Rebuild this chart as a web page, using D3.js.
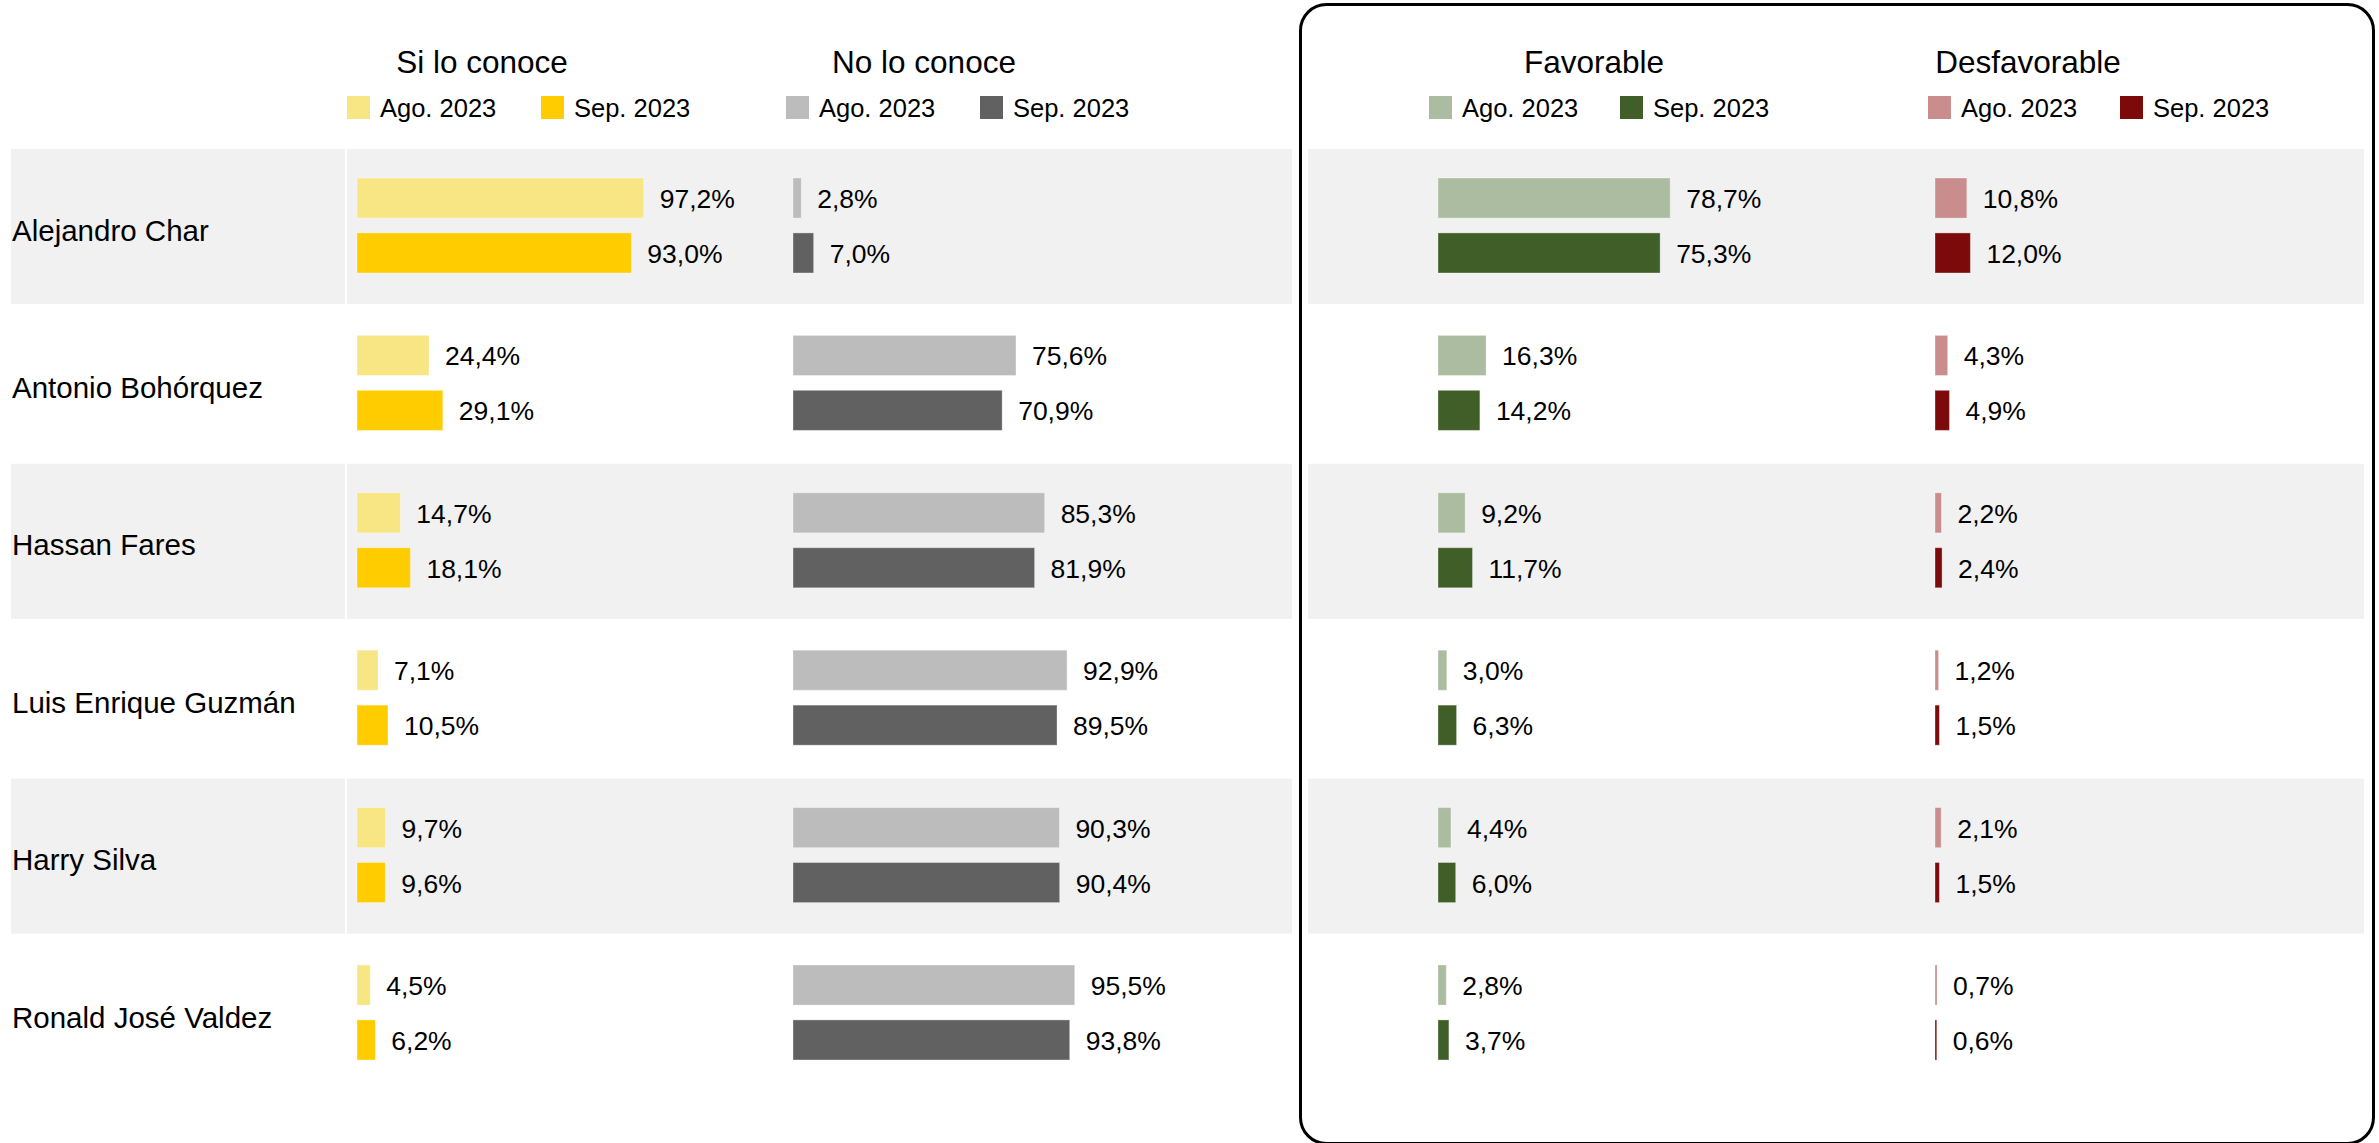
<!DOCTYPE html>
<html>
<head>
<meta charset="utf-8">
<script src="https://cdn.jsdelivr.net/npm/d3@7"></script>
<style>
  html, body { margin: 0; padding: 0; background: #ffffff; }
  svg { display: block; }
  text { font-family: "Liberation Sans", Arial, sans-serif; fill: #000; }
</style>
</head>
<body>
<svg id="chart" width="2379" height="1143"></svg>
<script>
// Candidates, in display order
const candidates = ["Alejandro Char", "Antonio Bohórquez", "Hassan Fares",
                    "Luis Enrique Guzmán", "Harry Silva", "Ronald José Valdez"];
const periods = ["Ago. 2023", "Sep. 2023"];

// Percentages per indicator and period
const siConoceAgo = [97.2, 24.4, 14.7, 7.1, 9.7, 4.5];
const siConoceSep = [93.0, 29.1, 18.1, 10.5, 9.6, 6.2];
const noConoceAgo = [2.8, 75.6, 85.3, 92.9, 90.3, 95.5];
const noConoceSep = [7.0, 70.9, 81.9, 89.5, 90.4, 93.8];
const favorableAgo = [78.7, 16.3, 9.2, 3.0, 4.4, 2.8];
const favorableSep = [75.3, 14.2, 11.7, 6.3, 6.0, 3.7];
const desfavorableAgo = [10.8, 4.3, 2.2, 1.2, 2.1, 0.7];
const desfavorableSep = [12.0, 4.9, 2.4, 1.5, 1.5, 0.6];

// Panel definitions: title, series, colours, x origin of bars
const panels = [
  { title: "Si lo conoce", values: [siConoceAgo, siConoceSep],
    colors: ["#F8E583", "#FFCC00"], x0: 357, titleX: 482, legendX: [347, 541] },
  { title: "No lo conoce", values: [noConoceAgo, noConoceSep],
    colors: ["#BCBCBC", "#616161"], x0: 793, titleX: 924, legendX: [786, 980] },
  { title: "Favorable", values: [favorableAgo, favorableSep],
    colors: ["#ABBCA0", "#3F5E28"], x0: 1438, titleX: 1594, legendX: [1429, 1620] },
  { title: "Desfavorable", values: [desfavorableAgo, desfavorableSep],
    colors: ["#C98D8D", "#7D0A0A"], x0: 1935, titleX: 2028, legendX: [1928, 2120] }
];

const svg = d3.select("#chart");

// Row layout
const rowPitch = 157.4;
const rowTop = 149;
const y = d3.scaleBand()
  .domain(candidates)
  .range([rowTop, rowTop + rowPitch * candidates.length])
  .paddingInner(0);

// Position of the two period bars inside a row
const yInner = d3.scaleBand()
  .domain(periods)
  .range([29, 124])
  .paddingInner(0.27);

// Shared value scale for every panel
const x = d3.scaleLinear().domain([0, 100]).range([0, 295]);

const fmt = v => d3.format(".1f")(v).replace(".", ",") + "%";

// Alternating row bands (odd rows shaded)
const bandH = 155;
const bands = svg.append("g").attr("class", "bands");
candidates.forEach((c, i) => {
  if (i % 2 !== 0) return;
  const top = y(c);
  bands.append("rect").attr("x", 11).attr("y", top).attr("width", 334).attr("height", bandH).attr("fill", "#F1F1F1");
  bands.append("rect").attr("x", 347).attr("y", top).attr("width", 945).attr("height", bandH).attr("fill", "#F1F1F1");
  bands.append("rect").attr("x", 1308).attr("y", top).attr("width", 1056).attr("height", bandH).attr("fill", "#F1F1F1");
});

// Frame around the favourability panels
svg.append("rect")
  .attr("x", 1300.5).attr("y", 4.5)
  .attr("width", 1073).attr("height", 1139)
  .attr("rx", 26).attr("ry", 26)
  .attr("fill", "none").attr("stroke", "#000").attr("stroke-width", 3);

// Candidate names
svg.append("g").selectAll("text")
  .data(candidates)
  .join("text")
  .attr("x", 12)
  .attr("y", d => y(d) + 81)
  .attr("dominant-baseline", "central")
  .attr("font-size", 29.5)
  .text(d => d);

// Panels
panels.forEach(p => {
  // Title
  svg.append("text")
    .attr("x", p.titleX).attr("y", 73)
    .attr("text-anchor", "middle")
    .attr("font-size", 31.5)
    .text(p.title);

  // Legend
  const lg = svg.append("g");
  periods.forEach((per, k) => {
    lg.append("rect")
      .attr("x", p.legendX[k]).attr("y", 96)
      .attr("width", 23).attr("height", 23)
      .attr("fill", p.colors[k]);
    lg.append("text")
      .attr("x", p.legendX[k] + 33).attr("y", 117)
      .attr("font-size", 25.5)
      .text(per);
  });

  // Bars and value labels
  const g = svg.append("g");
  periods.forEach((per, k) => {
    const rows = candidates.map((c, i) => ({ c, v: p.values[k][i] }));
    g.selectAll(null)
      .data(rows)
      .join("rect")
      .attr("x", p.x0)
      .attr("y", d => y(d.c) + yInner(per))
      .attr("width", d => x(d.v))
      .attr("height", yInner.bandwidth())
      .attr("fill", p.colors[k])
      .attr("stroke", "rgba(255,255,255,0.35)")
      .attr("stroke-width", 1);
    g.selectAll(null)
      .data(rows)
      .join("text")
      .attr("x", d => p.x0 + x(d.v) + 16)
      .attr("y", d => y(d.c) + yInner(per) + yInner.bandwidth() / 2 + 1)
      .attr("dominant-baseline", "central")
      .attr("font-size", 26.5)
      .text(d => fmt(d.v));
  });
});
</script>
</body>
</html>
